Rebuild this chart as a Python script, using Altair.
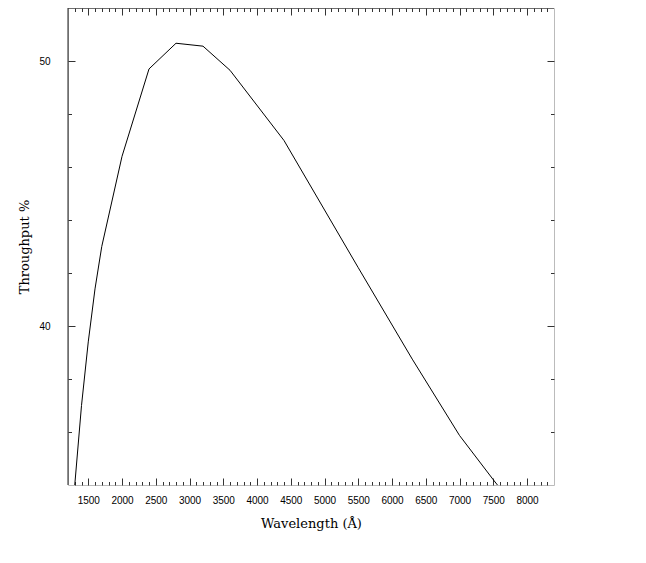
import altair as alt
import pandas as pd

# Throughput curve
wavelength = [1300, 1400, 1500, 1600, 1700, 2000, 2400, 2800, 3200, 3600, 4400, 5500, 6300, 7000, 7500, 8000]
throughput = [34.0, 37.0, 39.4, 41.4, 43.0, 46.4, 49.7, 50.67, 50.56, 49.65, 47.0, 42.2, 38.75, 35.87, 34.2, 32.6]

x_domain = [1200, 8400]
y_domain = [34, 52]
x_major = list(range(1500, 8001, 500))
x_minor = [v for v in range(1300, 8400, 100) if v % 500 != 0]
y_major = [40, 50]
y_minor = [36, 38, 42, 44, 46, 48]

W, H = 486, 477
MAJ, MIN = 7, 3.5
TICK = "#333333"

df = pd.DataFrame({"wavelength": wavelength, "throughput": throughput})
xs = alt.Scale(domain=x_domain, nice=False, zero=False)
ys = alt.Scale(domain=y_domain, nice=False, zero=False)


def axis(orient, values, size, labels=False, **kw):
    return alt.Axis(orient=orient, values=values, tickSize=size, offset=-size,
                    domain=False, grid=False, labels=labels, tickColor=TICK,
                    tickWidth=1, **kw)


base = alt.Chart(df)

main = base.mark_line(color="black", strokeWidth=1, clip=True).encode(
    x=alt.X("wavelength:Q", scale=xs,
            axis=axis("bottom", x_major, MAJ, labels=True, title="Wavelength (Å)",
                      format="d", labelFont="Liberation Sans", labelFontSize=10,
                      labelColor="black", labelPadding=10,
                      titleFont="DejaVu Serif", titleFontSize=13,
                      titleFontWeight="normal", titleColor="black", titlePadding=12)),
    y=alt.Y("throughput:Q", scale=ys,
            axis=axis("left", y_major, MAJ, labels=True, title="Throughput %",
                      format="d", labelFont="Liberation Sans", labelFontSize=10,
                      labelColor="black", labelPadding=18,
                      titleFont="DejaVu Serif", titleFontSize=13,
                      titleFontWeight="normal", titleColor="black", titlePadding=7)),
)


def ghost(xo, xv, xsz, yo, yv, ysz):
    return base.mark_line(strokeOpacity=0).encode(
        x=alt.X("wavelength:Q", scale=xs, axis=axis(xo, xv, xsz, title=None)),
        y=alt.Y("throughput:Q", scale=ys, axis=axis(yo, yv, ysz, title=None)),
    )


frame_df = pd.DataFrame({"k": [0]})
left_edge = alt.Chart(frame_df).mark_rule(color="#222222", strokeWidth=1).encode(
    x=alt.value(0), y=alt.value(0), y2=alt.value(H))
top_edge = alt.Chart(frame_df).mark_rule(color="#222222", strokeWidth=1).encode(
    x=alt.value(0), x2=alt.value(W), y=alt.value(0))

chart = alt.layer(
    main,
    ghost("bottom", x_minor, MIN, "left", y_minor, MIN),
    ghost("top", x_major, MAJ, "right", y_major, MAJ),
    ghost("top", x_minor, MIN, "right", y_minor, MIN),
    left_edge,
    top_edge,
).resolve_axis(x="independent", y="independent").properties(
    width=W, height=H,
    autosize=alt.AutoSizeParams(type="none"),
    padding={"left": 60, "top": 0, "right": 80, "bottom": 60},
).configure_view(stroke="#bbbbbb", strokeWidth=1)

chart.save("out.html", embed_options={"renderer": "svg", "actions": False})
